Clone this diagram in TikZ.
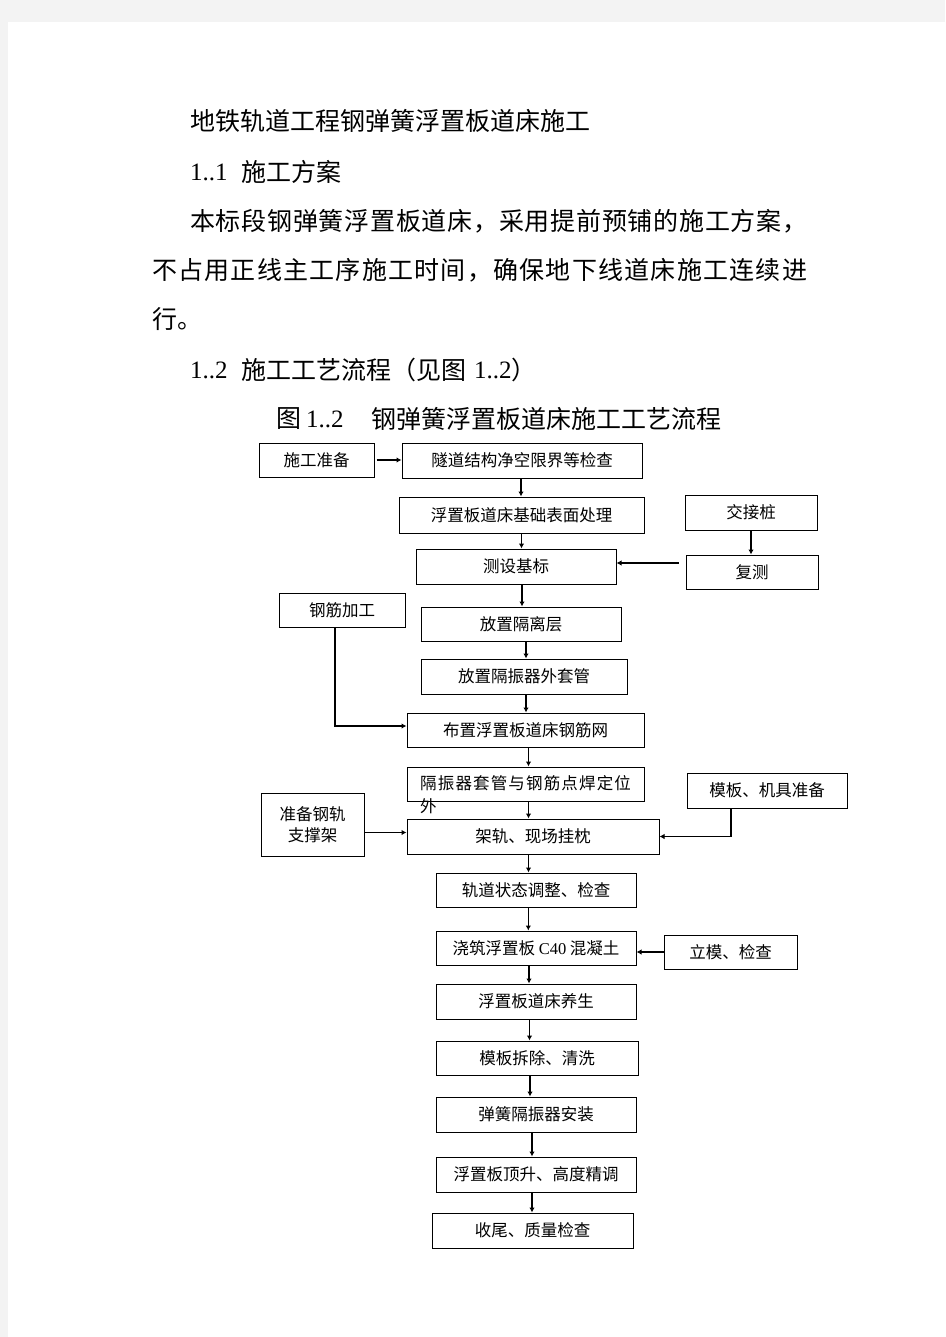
\documentclass[tikz,border=0pt]{standalone}
\usepackage{fontspec}
\setmainfont{Noto Sans CJK SC}
\newfontfamily\tnr{Liberation Serif}
\usetikzlibrary{arrows.meta}
\definecolor{bgray}{HTML}{F3F3F3}
\begin{document}
\begin{tikzpicture}[x=1pt,y=-1pt,
  box/.style={draw, line width=1pt, inner sep=0pt, align=center,
    font=\fontsize{16.5}{20.5}\selectfont},
  arr/.style={-{Latex[length=5pt,width=5.5pt]}, line width=1.4pt},
  body/.style={anchor=west, inner sep=0pt, font=\fontsize{25}{30}\selectfont},
  lbl/.style={anchor=west, inner sep=0pt, font=\fontsize{16.5}{20}\selectfont}]
\useasboundingbox (0,0) rectangle (945,1337);
\fill[bgray] (0,0) rectangle (945,1337);
\fill[white] (8,22) rectangle (945,1337);

% body text
\node[body] (t1) at (190,121) {地铁轨道工程钢弹簧浮置板道床施工};
\node[body] (t2a) at (190,172) {\tnr 1..1};
\node[body] (t2b) at (241,172) {施工方案};
\node[body] (t3) at (190,221) {\addfontfeature{LetterSpace=3}本标段钢弹簧浮置板道床，采用提前预铺的施工方案，};
\node[body] (t4) at (152,270) {\addfontfeature{LetterSpace=5}不占用正线主工序施工时间，确保地下线道床施工连续进};
\node[body] (t5) at (152,319) {行。};
\node[body] (t6a) at (190,370) {\tnr 1..2};
\node[body] (t6b) at (241,370) {施工工艺流程（见图};
\node[body] (t6c) at (474,370) {\tnr 1..2};
\node[body] (t6d) at (511,370) {）};
\node[body] (c1) at (276,419) {图};
\node[body] (c2) at (306,419) {\tnr 1..2};
\node[body] (c3) at (371,419) {钢弹簧浮置板道床施工工艺流程};

% boxes
\node[box, minimum width=115pt, minimum height=34pt] (sg) at (316.5,460) {施工准备};
\node[box, minimum width=240pt, minimum height=35pt] (sd) at (522,460.5) {隧道结构净空限界等检查};
\node[box, minimum width=245pt, minimum height=36pt] (fz) at (521.5,515) {浮置板道床基础表面处理};
\node[box, minimum width=132pt, minimum height=35pt] (jj) at (751,512.5) {交接桩};
\node[box, minimum width=132pt, minimum height=34pt] (fc) at (752,572) {复测};
\node[box, minimum width=200pt, minimum height=35pt] (cs) at (516,566.5) {测设基标};
\node[box, minimum width=126pt, minimum height=34pt] (gj) at (342,610) {钢筋加工};
\node[box, minimum width=200pt, minimum height=34pt] (gl) at (521,624) {放置隔离层};
\node[box, minimum width=206pt, minimum height=35pt] (gz) at (524,676.5) {放置隔振器外套管};
\node[box, minimum width=237pt, minimum height=34pt] (bz) at (525.5,730) {布置浮置板道床钢筋网};
\node[box, minimum width=237pt, minimum height=34pt] (hj) at (525.5,784) {};
\node[lbl] (hjt1) at (420,783) {\addfontfeature{LetterSpace=7}隔振器套管与钢筋点焊定位};
\node[lbl] (hjt2) at (420,806) {外};
\node[box, minimum width=103pt, minimum height=63pt] (zb) at (312.5,824.5) {准备钢轨\\支撑架};
\node[box, minimum width=252pt, minimum height=35pt] (jg) at (533,836.5) {架轨、现场挂枕};
\node[box, minimum width=160pt, minimum height=35pt] (mb) at (767,790.5) {模板、机具准备};
\node[box, minimum width=200pt, minimum height=34pt] (gd) at (536,890) {轨道状态调整、检查};
\node[box, minimum width=200pt, minimum height=34pt] (jz) at (536,948) {浇筑浮置板 {\tnr C40} 混凝土};
\node[box, minimum width=133pt, minimum height=34pt] (lm) at (730.5,952) {立模、检查};
\node[box, minimum width=200pt, minimum height=35pt] (ys) at (536,1001.5) {浮置板道床养生};
\node[box, minimum width=202pt, minimum height=34pt] (mc) at (537,1058) {模板拆除、清洗};
\node[box, minimum width=200pt, minimum height=35pt] (th) at (536,1114.5) {弹簧隔振器安装};
\node[box, minimum width=200pt, minimum height=35pt] (ds) at (536,1174.5) {浮置板顶升、高度精调};
\node[box, minimum width=201pt, minimum height=35pt] (sw) at (532.5,1230.5) {收尾、质量检查};

% connectors
\draw[arr] ([xshift=2pt]sg.east) -- (sg.east -| sd.west);
\draw[arr] ([xshift=-1pt]sd.south) -- ([xshift=-1pt]sd.south |- fz.north);
\draw[arr] (fz.south) -- (fz.south |- cs.north);
\draw[arr] (jj.south) -- (jj.south |- fc.north);
\draw[arr] ([xshift=-7pt,yshift=3.5pt]cs.east -| fc.west) -- ([yshift=3.5pt]cs.east);
\draw[arr] ([xshift=6pt]cs.south) -- ([xshift=6pt]cs.south |- gl.north);
\draw[arr] ([xshift=5pt]gl.south) -- ([xshift=5pt]gl.south |- gz.north);
\draw[arr] ([xshift=2pt]gz.south) -- ([xshift=2pt]gz.south |- bz.north);
\draw[arr] ([xshift=-7pt]gj.south) |- ([yshift=4pt]bz.west);
\draw[arr] ([xshift=3pt]bz.south) -- ([xshift=3pt]bz.south |- hj.north);
\draw[arr] ([xshift=3pt]hj.south) -- ([xshift=3pt]hj.south |- jg.north);
\draw[arr] ([yshift=4pt]jg.west -| zb.east) -- ([yshift=4pt]jg.west);
\draw[arr] ([xshift=-36pt]mb.south) |- (jg.east);
\draw[arr] ([xshift=-4.5pt]jg.south) -- ([xshift=-4.5pt]jg.south |- gd.north);
\draw[arr] ([xshift=-7.7pt]gd.south) -- ([xshift=-7.7pt]gd.south |- jz.north);
\draw[arr] (lm.west) -- (lm.west -| jz.east);
\draw[arr] ([xshift=-7pt]jz.south) -- ([xshift=-7pt]jz.south |- ys.north);
\draw[arr] ([xshift=-6.5pt]ys.south) -- ([xshift=-6.5pt]ys.south |- mc.north);
\draw[arr] ([xshift=-7pt]mc.south) -- ([xshift=-7pt]mc.south |- th.north);
\draw[arr] ([xshift=-4pt]th.south) -- ([xshift=-4pt]th.south |- ds.north);
\draw[arr] ([xshift=-4pt]ds.south) -- ([xshift=-4pt]ds.south |- sw.north);
\end{tikzpicture}
\end{document}
